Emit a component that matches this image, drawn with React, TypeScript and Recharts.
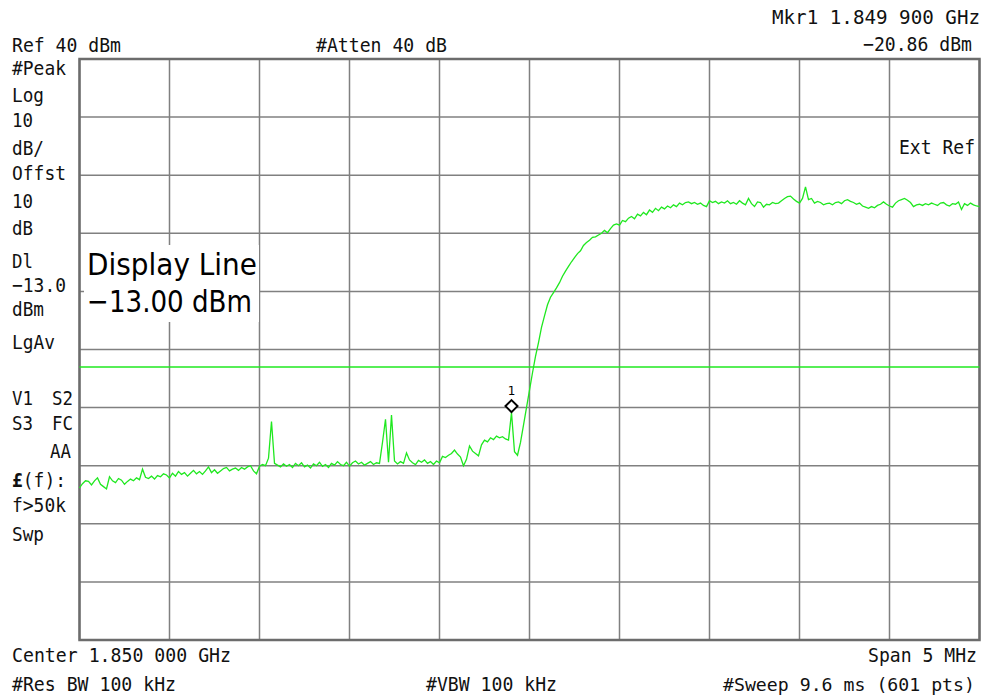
import React from 'react';
import {
  LineChart,
  Line,
  XAxis,
  YAxis,
  CartesianGrid,
  ReferenceLine,
  ReferenceDot,
  ReferenceArea,
} from 'recharts';

// Frequency offset from start (kHz), span 5 MHz centred on 1.850 000 GHz
const SPAN_KHZ = 5000;
const X_TICKS = [0, 500, 1000, 1500, 2000, 2500, 3000, 3500, 4000, 4500, 5000];
// Ref 40 dBm, 10 dB/div
const Y_TICKS = [-60, -50, -40, -30, -20, -10, 0, 10, 20, 30, 40];

// Trace values (dBm), evenly spaced across the span
const TRACE_DBM = [
  -33.8, -33.1, -32.6, -32.7, -33.3, -32.6, -32.1, -33.2, -33.6, -34.0,
  -31.9, -32.6, -32.9, -32.2, -32.5, -33.2, -32.7, -32.3, -32.6, -32.1,
  -32.4, -30.6, -32.0, -32.2, -31.8, -32.3, -31.7, -31.9, -31.4, -31.6,
  -32.1, -31.3, -31.8, -31.0, -31.5, -31.2, -31.8, -31.3, -30.8, -31.4,
  -31.0, -31.5, -30.9, -30.2, -31.2, -30.7, -31.3, -30.9, -30.5, -30.3,
  -30.9, -30.6, -30.4, -30.8, -30.3, -30.6, -30.2, -30.0, -30.9, -31.4,
  -30.1, -29.8, -30.0, -28.7, -22.4, -29.6, -29.9, -30.2, -29.7, -30.1,
  -29.8, -30.3, -29.6, -30.0, -29.5, -30.2, -29.9, -30.4, -29.7, -30.0,
  -29.4, -30.1, -29.8, -30.3, -29.6, -29.9, -29.3, -29.8, -30.0, -29.4,
  -30.1, -29.5, -29.2, -29.7, -29.4, -29.9, -29.6, -29.3, -29.8, -29.5,
  -29.6, -26.0, -22.0, -29.4, -21.3, -29.2, -29.7, -29.3, -29.6, -27.8,
  -29.0, -29.5, -29.8, -29.1, -29.4, -29.0, -29.6, -29.3, -29.8, -29.2,
  -29.5, -28.4, -28.6, -28.2, -27.9, -27.3, -28.0, -28.5, -30.0, -28.9,
  -26.6, -27.5, -27.9, -28.3, -26.4, -25.6, -25.9, -25.2, -25.5, -24.9,
  -25.2, -25.0, -25.4, -25.6, -20.86, -27.6, -28.2, -26.0, -23.0, -20.0,
  -17.0, -14.0, -11.2, -8.8, -6.2, -4.2, -2.3, -1.0, -0.2, 0.6,
  1.5, 2.6, 3.5, 4.3, 5.1, 5.8, 6.5, 7.0, 7.9, 8.4,
  8.8, 9.3, 9.4, 9.7, 10.0, 10.5, 10.1, 10.8, 11.4, 11.6,
  11.4, 12.2, 12.0, 12.6, 12.9, 12.5, 13.3, 13.0, 13.6, 13.2,
  14.0, 13.6, 14.3, 13.9, 14.5, 14.2, 14.7, 14.4, 14.9, 14.6,
  15.2, 14.9, 15.3, 15.4, 15.1, 15.3, 15.0, 15.2, 14.8, 14.6,
  15.6, 15.3, 15.5, 15.1, 15.4, 15.2, 15.6, 15.1, 15.3, 15.0,
  15.6, 15.2, 14.9, 16.0, 15.1, 14.6, 15.4, 15.3, 14.5, 15.0,
  14.9, 15.3, 15.1, 15.2, 15.6, 16.0, 16.3, 16.4, 15.9, 15.5,
  15.2, 16.0, 18.0, 15.8, 16.0, 15.2, 15.5, 15.3, 14.9, 15.1,
  15.2, 14.9, 15.3, 15.4, 15.1, 15.6, 15.8, 15.5, 15.3, 15.0,
  15.2, 14.7, 14.5, 14.3, 14.6, 14.4, 14.8, 15.0, 15.4, 15.0,
  14.7, 14.5, 15.2, 15.6, 15.8, 16.0, 15.7, 15.3, 14.6, 14.9,
  15.0, 14.8, 15.1, 14.9, 15.2, 15.0, 14.8, 15.2, 15.3, 14.9,
  14.7, 15.1, 15.0, 15.4, 14.1, 15.1, 14.8, 15.2, 14.9, 14.7,
  14.6,
];

const MARKER_F_KHZ = 2400; // 1.849 900 GHz
const MARKER_DBM = -20.86;
const MARKER_LABEL = '1';
const DISPLAY_LINE_DBM = -13;

const data = TRACE_DBM.map((v, i) => ({
  f: (i * SPAN_KHZ) / (TRACE_DBM.length - 1),
  v,
}));

const GREEN = '#1fe81f';
const GRID = '#808080';
const FRAME = '#6c6c6c';
const MONO = '"DejaVu Sans Mono", "Liberation Mono", monospace';
const SANS = '"DejaVu Sans", "Liberation Sans", sans-serif';
const CHAR_W = 11;

const MarkerShape = (props: any) => {
  const { cx, cy } = props;
  if (cx == null || cy == null) return null;
  const c = cy - 6.5;
  const h = 6;
  return (
    <g>
      <path
        d={`M ${cx} ${c - h} L ${cx + h} ${c} L ${cx} ${c + h} L ${cx - h} ${c} Z`}
        fill="#ffffff"
        stroke="#000000"
        strokeWidth={2}
      />
      <text x={cx} y={c - 11} textAnchor="middle" fontFamily={SANS} fontSize={12} fill="#000">
        {MARKER_LABEL}
      </text>
    </g>
  );
};

// Monospace label; "right" gives the right edge instead of the left edge
const T = ({ s, x, right, size, children, ...p }: any) => {
  const len = s.length * CHAR_W - 1;
  const left = right != null ? right - len : x;
  return (
    <text
      x={left}
      fontFamily={MONO}
      fontSize={size ?? 19.5}
      fill="#111"
      textLength={len}
      lengthAdjust="spacingAndGlyphs"
      {...p}
    >
      {children ?? s}
    </text>
  );
};

export default function App() {
  return (
    <div style={{ position: 'absolute', left: 0, top: 0, width: 986, height: 699, background: '#fff' }}>
      <LineChart
        width={986}
        height={699}
        data={data}
        margin={{ top: 59, right: 6.5, bottom: 59, left: 79.5 }}
      >
        <XAxis dataKey="f" type="number" domain={[0, SPAN_KHZ]} ticks={X_TICKS} hide />
        <YAxis type="number" domain={[-60, 40]} ticks={Y_TICKS} hide />
        <CartesianGrid stroke={GRID} strokeWidth={1.5} strokeOpacity={1} />
        <ReferenceLine y={DISPLAY_LINE_DBM} stroke={GREEN} strokeWidth={1.5} />
        <Line
          dataKey="v"
          type="linear"
          stroke={GREEN}
          strokeWidth={1.3}
          dot={false}
          activeDot={false}
          isAnimationActive={false}
        />
        <ReferenceArea
          x1={0}
          x2={SPAN_KHZ}
          y1={-60}
          y2={40}
          fill="none"
          fillOpacity={0}
          stroke={FRAME}
          strokeWidth={2.5}
          strokeOpacity={1}
        />
        <ReferenceDot x={MARKER_F_KHZ} y={MARKER_DBM} shape={MarkerShape} />
      </LineChart>
      <svg
        width={986}
        height={699}
        style={{ position: 'absolute', left: 0, top: 0, pointerEvents: 'none' }}
      >
        <T right={980} y={23.5} s="Mkr1  1.849 900 GHz" />
        <T x={12} y={51.5} s="Ref 40 dBm" />
        <T x={316} y={51.5} s="#Atten 40 dB" />
        <T right={972} y={51} s="−20.86 dBm" />

        <T x={12} y={74.5} s="#Peak" />
        <T x={12} y={101.5} s="Log" />
        <T x={12} y={127} s="10" />
        <T x={12} y={155} s="dB/" />
        <T x={12} y={180} s="Offst" />
        <T x={12} y={208} s="10" />
        <T x={12} y={235} s="dB" />
        <T x={12} y={268} s="Dl" />
        <T x={12} y={291.5} s="−13.0" />
        <T x={12} y={316} s="dBm" />
        <T x={12} y={349} s="LgAv" />
        <T x={12} y={405} s="V1" />
        <T x={52} y={405} s="S2" />
        <T x={12} y={430} s="S3" />
        <T x={52} y={430} s="FC" />
        <T x={50} y={458} s="AA" />
        <T x={12} y={486.5} s="£(f):">
          <tspan fontWeight="bold">£</tspan>(f):
        </T>
        <T x={12} y={511.5} s="f>50k" />
        <T x={12} y={541} s="Swp" />

        <T right={975} y={154} s="Ext Ref" />

        <rect x={84} y={245} width={175} height={77} fill="#fff" />
        <text x={87} y={275} fontFamily={SANS} fontSize={31} fill="#000" textLength={170} lengthAdjust="spacingAndGlyphs">
          Display Line
        </text>
        <text x={87} y={311.5} fontFamily={SANS} fontSize={31} fill="#000" textLength={165} lengthAdjust="spacingAndGlyphs">
          −13.00 dBm
        </text>

        <T x={12} y={662} s="Center 1.850 000 GHz" />
        <T right={977} y={662} s="Span 5 MHz" />
        <T x={12} y={691} s="#Res BW 100 kHz" />
        <T x={426} y={691} s="#VBW 100 kHz" />
        <T right={975} y={691} size={18.3} s="#Sweep 9.6 ms (601 pts)" />
      </svg>
    </div>
  );
}
